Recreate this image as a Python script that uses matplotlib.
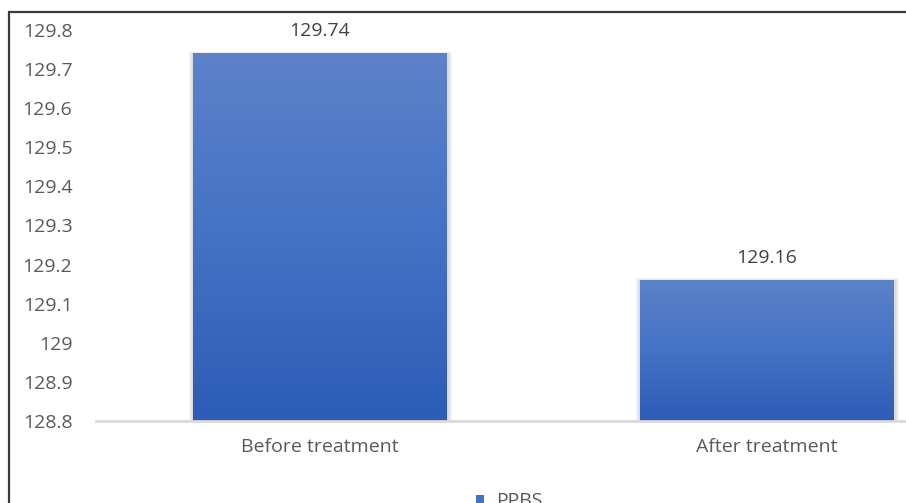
import numpy as np
import matplotlib.pyplot as plt
from matplotlib.colors import LinearSegmentedColormap
from matplotlib.patches import Rectangle

categories = ["Before treatment", "After treatment"]
ppbs = [129.74, 129.16]
y_ticks = [128.8, 128.9, 129.0, 129.1, 129.2, 129.3, 129.4, 129.5, 129.6, 129.7, 129.8]
y_tick_labels = ["128.8", "128.9", "129", "129.1", "129.2", "129.3", "129.4",
                 "129.5", "129.6", "129.7", "129.8"]
series_name = "PPBS"

plt.rcParams['font.family'] = ['Open Sans', 'DejaVu Sans']

W, H = 906, 503
fig = plt.figure(figsize=(W / 100, H / 100), dpi=100)

# outer chart frame (right and bottom fall outside the image)
fig.patches.append(Rectangle((9 / W, -0.1), 1.2, 1 - 12 / H + 0.1, transform=fig.transFigure,
                             fill=False, edgecolor="#3a3a3a", linewidth=1.6, zorder=0))

# plot area extends past the right edge of the figure
ax = fig.add_axes([96 / W, 1 - 421 / H, 894 / W, 391 / H])
ax.set_xlim(-0.5, 1.5)
ax.set_ylim(128.8, 129.8)

grad = LinearSegmentedColormap.from_list("bar", ["#2d5cb6", "#4472c4", "#5c82ca"])
bar_w = 0.568
base = 128.8
px = 2.0 / 894  # one pixel in data units along x
for i, v in enumerate(ppbs):
    x0, x1 = i - bar_w / 2, i + bar_w / 2
    # soft shadow around the bar
    for k in range(1, 5):
        ax.add_patch(Rectangle((x0 - k * px, base), bar_w + 2 * k * px + 2 * px,
                               v - base + k * 0.0012,
                               facecolor="black", alpha=0.035, linewidth=0, zorder=1))
    g = np.linspace(0, 1, 256).reshape(-1, 1)
    ax.imshow(g, cmap=grad, aspect="auto", extent=(x0, x1, base, v), origin="lower",
              zorder=2, interpolation="bilinear")
    ax.text(i, v + 0.035, f"{v:.2f}", ha="center", va="bottom", fontsize=14, color="#404040")

ax.set_xlim(-0.5, 1.5)
ax.set_ylim(128.8, 129.8)

for s in ["top", "right", "left"]:
    ax.spines[s].set_visible(False)
ax.spines["bottom"].set_color("#d9d9d9")
ax.spines["bottom"].set_linewidth(2)

ax.set_yticks(y_ticks)
ax.set_yticklabels(y_tick_labels)
ax.set_xticks(range(len(categories)))
ax.set_xticklabels(categories)
ax.tick_params(axis="both", length=0, labelsize=14, colors="#595959")
ax.tick_params(axis="y", pad=17)
ax.tick_params(axis="x", pad=12)

# legend sits at the bottom, partly cut off
fig.patches.append(Rectangle((476 / W, 1 - 503 / H), 8 / W, 8 / H, transform=fig.transFigure,
                             facecolor="#4472c4", edgecolor="none"))
fig.text(496 / W, 1 - 492 / H, series_name, fontsize=14, color="#595959", va="top", ha="left")

fig.savefig("out.png", dpi=100)
